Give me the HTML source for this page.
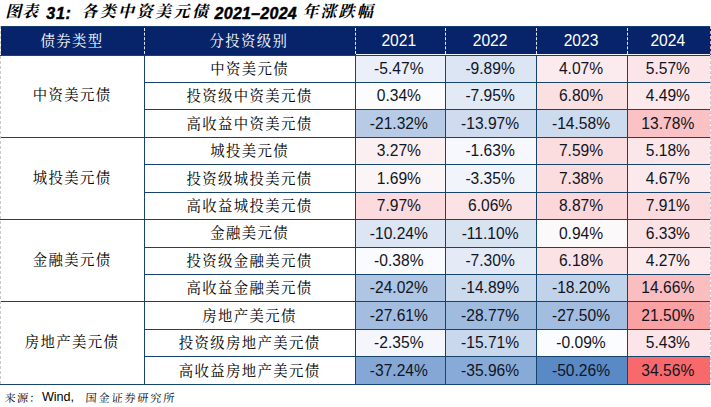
<!DOCTYPE html>
<html lang="zh-CN"><head><meta charset="utf-8"><title>图表 31: 各类中资美元债 2021-2024 年涨跌幅</title>
<style>
html,body{margin:0;padding:0;background:#fff}
body{width:711px;height:407px;position:relative;overflow:hidden;font-family:"Liberation Sans",sans-serif;color:#000}
.lab{position:absolute;display:block;overflow:visible}
.lab .t{position:absolute;left:3.6px;top:0;height:100%;color:#000;font-family:"Liberation Serif","Noto Serif CJK SC",serif;font-size:14.4px;line-height:18.72px;letter-spacing:1.35px;white-space:nowrap;overflow:visible}
.lab.th .t{color:#fff}
.lab .t.ti{left:3.2px;font-size:16px;font-weight:bold;font-style:italic;line-height:20.8px;letter-spacing:2.45px}
.lab .t.ts{left:2.6px;font-size:11.2px;line-height:14.56px;letter-spacing:1.78px;transform:skewX(-4deg);transform-origin:left bottom}
.hdr{position:absolute;background:#07246a;border-top:1px solid #173f75;box-sizing:border-box}
.hw{position:absolute;height:1px;background:#eef3fb}
.hsep{position:absolute;display:block;width:0;border-left:1px dashed #dfe6f2}
.c1,.c2,.d{position:absolute;box-sizing:border-box;border:1px solid #17446c}
.c1{border-left:none}
.d.last{border-right:none}
.num{position:absolute;display:block;text-align:center;color:#10141f;font-size:15.6px;white-space:nowrap}
.num.th{color:#fff}
.ledge{position:absolute;left:0;width:0;border-left:1px dashed #c9c9c9}
.redge{position:absolute;left:710px;width:0;border-left:1px dashed #c4c4cc}
.tl{position:absolute;-webkit-text-stroke:0.45px #000;font-size:16px;font-weight:bold;font-style:italic;line-height:22px;height:22px;white-space:nowrap}
.sl{position:absolute;font-size:12.6px;line-height:16px;white-space:nowrap}
</style></head><body>
<div class="title"><span class="lab" style="left:2.00px;top:2.22px;width:40.05px;height:20.80px"><span class="t ti" style="letter-spacing:0.8px">图表</span></span><span class="tl" style="left:46.3px;top:2.9px;letter-spacing:0.7px">31:</span><span class="lab" style="left:78.00px;top:2.22px;width:134.25px;height:20.80px"><span class="t ti">各类中资美元债</span></span><span class="tl" style="left:214.6px;top:2.9px;letter-spacing:0.25px">2021–2024</span><span class="lab" style="left:299.00px;top:2.22px;width:78.25px;height:20.80px"><span class="t ti" style="letter-spacing:2.2px">年涨跌幅</span></span></div>
<div class="tbl">
<div class="hdr" style="left:1px;top:26px;width:710px;height:29px"><i class="hsep" style="left:143px;top:1px;height:26px"></i><i class="hsep" style="left:354px;top:1px;height:26px"></i><i class="hsep" style="left:444px;top:1px;height:26px"></i><i class="hsep" style="left:535px;top:1px;height:26px"></i><i class="hsep" style="left:626px;top:1px;height:26px"></i><span class="lab th" style="left:36.00px;top:4.76px;width:69.00px;height:18.72px"><span class="t">债券类型</span></span><span class="lab th" style="left:204.93px;top:4.76px;width:84.75px;height:18.72px"><span class="t">分投资级别</span></span><span class="num th" style="left:352.8px;top:-1px;width:90px;height:29px;line-height:30px">2021</span><span class="num th" style="left:444.1px;top:-1px;width:90px;height:29px;line-height:30px">2022</span><span class="num th" style="left:535.0px;top:-1px;width:90px;height:29px;line-height:30px">2023</span><span class="num th" style="left:621.8px;top:-1px;width:90px;height:29px;line-height:30px">2024</span></div>
<div class="hw" style="left:356px;top:54px;width:354px"></div>
<div class="c1" style="left:0;top:55px;width:145px;height:83px"><span class="lab" style="left:29.12px;top:30.24px;width:84.75px;height:18.72px"><span class="t">中资美元债</span></span></div>
<div class="c2" style="left:144px;top:55px;width:212px;height:28px"><span class="lab" style="left:61.62px;top:3.79px;width:84.75px;height:18.72px"><span class="t">中资美元债</span></span></div>
<div class="d" style="left:355px;top:55px;width:91px;height:28px;background:#eaeff9"><span class="num" style="left:-2.2px;top:-1px;width:90px;height:28px;line-height:28px">-5.47%</span></div>
<div class="d" style="left:445px;top:55px;width:92px;height:28px;background:#dce5f4"><span class="num" style="left:-0.9px;top:-1px;width:90px;height:28px;line-height:28px">-9.89%</span></div>
<div class="d" style="left:536px;top:55px;width:92px;height:28px;background:#fcebee"><span class="num" style="left:-1.0px;top:-1px;width:90px;height:28px;line-height:28px">4.07%</span></div>
<div class="d last" style="left:627px;top:55px;width:83px;height:28px;background:#fbe5e8"><span class="num" style="left:-5.2px;top:-1px;width:90px;height:28px;line-height:28px">5.57%</span></div>
<div class="c2" style="left:144px;top:82px;width:212px;height:28px"><span class="lab" style="left:38.00px;top:4.24px;width:132.00px;height:18.72px"><span class="t">投资级中资美元债</span></span></div>
<div class="d" style="left:355px;top:82px;width:91px;height:28px;background:#fcfbfe"><span class="num" style="left:-2.2px;top:-1px;width:90px;height:28px;line-height:28px">0.34%</span></div>
<div class="d" style="left:445px;top:82px;width:92px;height:28px;background:#e2eaf6"><span class="num" style="left:-0.9px;top:-1px;width:90px;height:28px;line-height:28px">-7.95%</span></div>
<div class="d" style="left:536px;top:82px;width:92px;height:28px;background:#fbe0e2"><span class="num" style="left:-1.0px;top:-1px;width:90px;height:28px;line-height:28px">6.80%</span></div>
<div class="d last" style="left:627px;top:82px;width:83px;height:28px;background:#fbe9ec"><span class="num" style="left:-5.2px;top:-1px;width:90px;height:28px;line-height:28px">4.49%</span></div>
<div class="c2" style="left:144px;top:109px;width:212px;height:29px"><span class="lab" style="left:38.00px;top:4.69px;width:132.00px;height:18.72px"><span class="t">高收益中资美元债</span></span></div>
<div class="d" style="left:355px;top:109px;width:91px;height:29px;background:#b7cbe7"><span class="num" style="left:-2.2px;top:-1px;width:90px;height:29px;line-height:29px">-21.32%</span></div>
<div class="d" style="left:445px;top:109px;width:92px;height:29px;background:#cfdcef"><span class="num" style="left:-0.9px;top:-1px;width:90px;height:29px;line-height:29px">-13.97%</span></div>
<div class="d" style="left:536px;top:109px;width:92px;height:29px;background:#cddbee"><span class="num" style="left:-1.0px;top:-1px;width:90px;height:29px;line-height:29px">-14.58%</span></div>
<div class="d last" style="left:627px;top:109px;width:83px;height:29px;background:#fac2c4"><span class="num" style="left:-5.2px;top:-1px;width:90px;height:29px;line-height:29px">13.78%</span></div>
<div class="c1" style="left:0;top:137px;width:145px;height:83px"><span class="lab" style="left:29.12px;top:30.59px;width:84.75px;height:18.72px"><span class="t">城投美元债</span></span></div>
<div class="c2" style="left:144px;top:137px;width:212px;height:28px"><span class="lab" style="left:61.62px;top:4.14px;width:84.75px;height:18.72px"><span class="t">城投美元债</span></span></div>
<div class="d" style="left:355px;top:137px;width:91px;height:28px;background:#fceff1"><span class="num" style="left:-2.2px;top:-1px;width:90px;height:28px;line-height:28px">3.27%</span></div>
<div class="d" style="left:445px;top:137px;width:92px;height:28px;background:#f6f8fd"><span class="num" style="left:-0.9px;top:-1px;width:90px;height:28px;line-height:28px">-1.63%</span></div>
<div class="d" style="left:536px;top:137px;width:92px;height:28px;background:#fbdcdf"><span class="num" style="left:-1.0px;top:-1px;width:90px;height:28px;line-height:28px">7.59%</span></div>
<div class="d last" style="left:627px;top:137px;width:83px;height:28px;background:#fbe6e9"><span class="num" style="left:-5.2px;top:-1px;width:90px;height:28px;line-height:28px">5.18%</span></div>
<div class="c2" style="left:144px;top:164px;width:212px;height:29px"><span class="lab" style="left:38.00px;top:4.59px;width:132.00px;height:18.72px"><span class="t">投资级城投美元债</span></span></div>
<div class="d" style="left:355px;top:164px;width:91px;height:29px;background:#fcf5f8"><span class="num" style="left:-2.2px;top:-1px;width:90px;height:29px;line-height:29px">1.69%</span></div>
<div class="d" style="left:445px;top:164px;width:92px;height:29px;background:#f1f4fb"><span class="num" style="left:-0.9px;top:-1px;width:90px;height:29px;line-height:29px">-3.35%</span></div>
<div class="d" style="left:536px;top:164px;width:92px;height:29px;background:#fbdde0"><span class="num" style="left:-1.0px;top:-1px;width:90px;height:29px;line-height:29px">7.38%</span></div>
<div class="d last" style="left:627px;top:164px;width:83px;height:29px;background:#fbe9eb"><span class="num" style="left:-5.2px;top:-1px;width:90px;height:29px;line-height:29px">4.67%</span></div>
<div class="c2" style="left:144px;top:192px;width:212px;height:28px"><span class="lab" style="left:38.00px;top:4.04px;width:132.00px;height:18.72px"><span class="t">高收益城投美元债</span></span></div>
<div class="d" style="left:355px;top:192px;width:91px;height:28px;background:#fbdbdd"><span class="num" style="left:-2.2px;top:-1px;width:90px;height:28px;line-height:28px">7.97%</span></div>
<div class="d" style="left:445px;top:192px;width:92px;height:28px;background:#fbe3e5"><span class="num" style="left:-0.9px;top:-1px;width:90px;height:28px;line-height:28px">6.06%</span></div>
<div class="d" style="left:536px;top:192px;width:92px;height:28px;background:#fbd7d9"><span class="num" style="left:-1.0px;top:-1px;width:90px;height:28px;line-height:28px">8.87%</span></div>
<div class="d last" style="left:627px;top:192px;width:83px;height:28px;background:#fbdbde"><span class="num" style="left:-5.2px;top:-1px;width:90px;height:28px;line-height:28px">7.91%</span></div>
<div class="c1" style="left:0;top:219px;width:145px;height:83px"><span class="lab" style="left:29.12px;top:30.94px;width:84.75px;height:18.72px"><span class="t">金融美元债</span></span></div>
<div class="c2" style="left:144px;top:219px;width:212px;height:29px"><span class="lab" style="left:61.62px;top:4.49px;width:84.75px;height:18.72px"><span class="t">金融美元债</span></span></div>
<div class="d" style="left:355px;top:219px;width:91px;height:29px;background:#dbe5f3"><span class="num" style="left:-2.2px;top:-1px;width:90px;height:29px;line-height:29px">-10.24%</span></div>
<div class="d" style="left:445px;top:219px;width:92px;height:29px;background:#d8e3f2"><span class="num" style="left:-0.9px;top:-1px;width:90px;height:29px;line-height:29px">-11.10%</span></div>
<div class="d" style="left:536px;top:219px;width:92px;height:29px;background:#fcf9fb"><span class="num" style="left:-1.0px;top:-1px;width:90px;height:29px;line-height:29px">0.94%</span></div>
<div class="d last" style="left:627px;top:219px;width:83px;height:29px;background:#fbe2e4"><span class="num" style="left:-5.2px;top:-1px;width:90px;height:29px;line-height:29px">6.33%</span></div>
<div class="c2" style="left:144px;top:247px;width:212px;height:28px"><span class="lab" style="left:38.00px;top:3.94px;width:132.00px;height:18.72px"><span class="t">投资级金融美元债</span></span></div>
<div class="d" style="left:355px;top:247px;width:91px;height:28px;background:#fafbfe"><span class="num" style="left:-2.2px;top:-1px;width:90px;height:28px;line-height:28px">-0.38%</span></div>
<div class="d" style="left:445px;top:247px;width:92px;height:28px;background:#e4ebf7"><span class="num" style="left:-0.9px;top:-1px;width:90px;height:28px;line-height:28px">-7.30%</span></div>
<div class="d" style="left:536px;top:247px;width:92px;height:28px;background:#fbe2e5"><span class="num" style="left:-1.0px;top:-1px;width:90px;height:28px;line-height:28px">6.18%</span></div>
<div class="d last" style="left:627px;top:247px;width:83px;height:28px;background:#fceaed"><span class="num" style="left:-5.2px;top:-1px;width:90px;height:28px;line-height:28px">4.27%</span></div>
<div class="c2" style="left:144px;top:274px;width:212px;height:28px"><span class="lab" style="left:38.00px;top:4.39px;width:132.00px;height:18.72px"><span class="t">高收益金融美元债</span></span></div>
<div class="d" style="left:355px;top:274px;width:91px;height:28px;background:#aec5e4"><span class="num" style="left:-2.2px;top:-1px;width:90px;height:28px;line-height:28px">-24.02%</span></div>
<div class="d" style="left:445px;top:274px;width:92px;height:28px;background:#ccdaee"><span class="num" style="left:-0.9px;top:-1px;width:90px;height:28px;line-height:28px">-14.89%</span></div>
<div class="d" style="left:536px;top:274px;width:92px;height:28px;background:#c1d3ea"><span class="num" style="left:-1.0px;top:-1px;width:90px;height:28px;line-height:28px">-18.20%</span></div>
<div class="d last" style="left:627px;top:274px;width:83px;height:28px;background:#fabec1"><span class="num" style="left:-5.2px;top:-1px;width:90px;height:28px;line-height:28px">14.66%</span></div>
<div class="c1" style="left:0;top:301px;width:145px;height:84px"><span class="lab" style="left:21.25px;top:31.29px;width:100.50px;height:18.72px"><span class="t">房地产美元债</span></span></div>
<div class="c2" style="left:144px;top:301px;width:212px;height:29px"><span class="lab" style="left:53.75px;top:4.84px;width:100.50px;height:18.72px"><span class="t">房地产美元债</span></span></div>
<div class="d" style="left:355px;top:301px;width:91px;height:29px;background:#a3bde0"><span class="num" style="left:-2.2px;top:-1px;width:90px;height:29px;line-height:29px">-27.61%</span></div>
<div class="d" style="left:445px;top:301px;width:92px;height:29px;background:#9fbbde"><span class="num" style="left:-0.9px;top:-1px;width:90px;height:29px;line-height:29px">-28.77%</span></div>
<div class="d" style="left:536px;top:301px;width:92px;height:29px;background:#a3bde0"><span class="num" style="left:-1.0px;top:-1px;width:90px;height:29px;line-height:29px">-27.50%</span></div>
<div class="d last" style="left:627px;top:301px;width:83px;height:29px;background:#faa1a3"><span class="num" style="left:-5.2px;top:-1px;width:90px;height:29px;line-height:29px">21.50%</span></div>
<div class="c2" style="left:144px;top:329px;width:212px;height:28px"><span class="lab" style="left:30.12px;top:4.29px;width:147.75px;height:18.72px"><span class="t">投资级房地产美元债</span></span></div>
<div class="d" style="left:355px;top:329px;width:91px;height:28px;background:#f4f6fc"><span class="num" style="left:-2.2px;top:-1px;width:90px;height:28px;line-height:28px">-2.35%</span></div>
<div class="d" style="left:445px;top:329px;width:92px;height:28px;background:#c9d8ed"><span class="num" style="left:-0.9px;top:-1px;width:90px;height:28px;line-height:28px">-15.71%</span></div>
<div class="d" style="left:536px;top:329px;width:92px;height:28px;background:#fbfcff"><span class="num" style="left:-1.0px;top:-1px;width:90px;height:28px;line-height:28px">-0.09%</span></div>
<div class="d last" style="left:627px;top:329px;width:83px;height:28px;background:#fbe5e8"><span class="num" style="left:-5.2px;top:-1px;width:90px;height:28px;line-height:28px">5.43%</span></div>
<div class="c2" style="left:144px;top:356px;width:212px;height:29px"><span class="lab" style="left:30.12px;top:4.74px;width:147.75px;height:18.72px"><span class="t">高收益房地产美元债</span></span></div>
<div class="d" style="left:355px;top:356px;width:91px;height:29px;background:#84a7d5"><span class="num" style="left:-2.2px;top:-1px;width:90px;height:29px;line-height:29px">-37.24%</span></div>
<div class="d" style="left:445px;top:356px;width:92px;height:29px;background:#88aad6"><span class="num" style="left:-0.9px;top:-1px;width:90px;height:29px;line-height:29px">-35.96%</span></div>
<div class="d" style="left:536px;top:356px;width:92px;height:29px;background:#5a8ac6"><span class="num" style="left:-1.0px;top:-1px;width:90px;height:29px;line-height:29px">-50.26%</span></div>
<div class="d last" style="left:627px;top:356px;width:83px;height:29px;background:#f8696b"><span class="num" style="left:-5.2px;top:-1px;width:90px;height:29px;line-height:29px">34.56%</span></div>
<div class="ledge" style="top:26px;height:358px"></div>
<div class="redge" style="top:26px;height:359px"></div>
</div>
<div class="src"><span class="lab" style="left:1.00px;top:390.82px;width:39.95px;height:14.56px"><span class="t ts" style="letter-spacing:1.2px">来源：</span></span><span class="sl" style="left:41.9px;top:389.4px">Wind,</span><span class="lab" style="left:81.00px;top:390.82px;width:96.53px;height:14.56px"><span class="t ts" style="left:3.6px">国金证券研究所</span></span></div>
</body></html>
